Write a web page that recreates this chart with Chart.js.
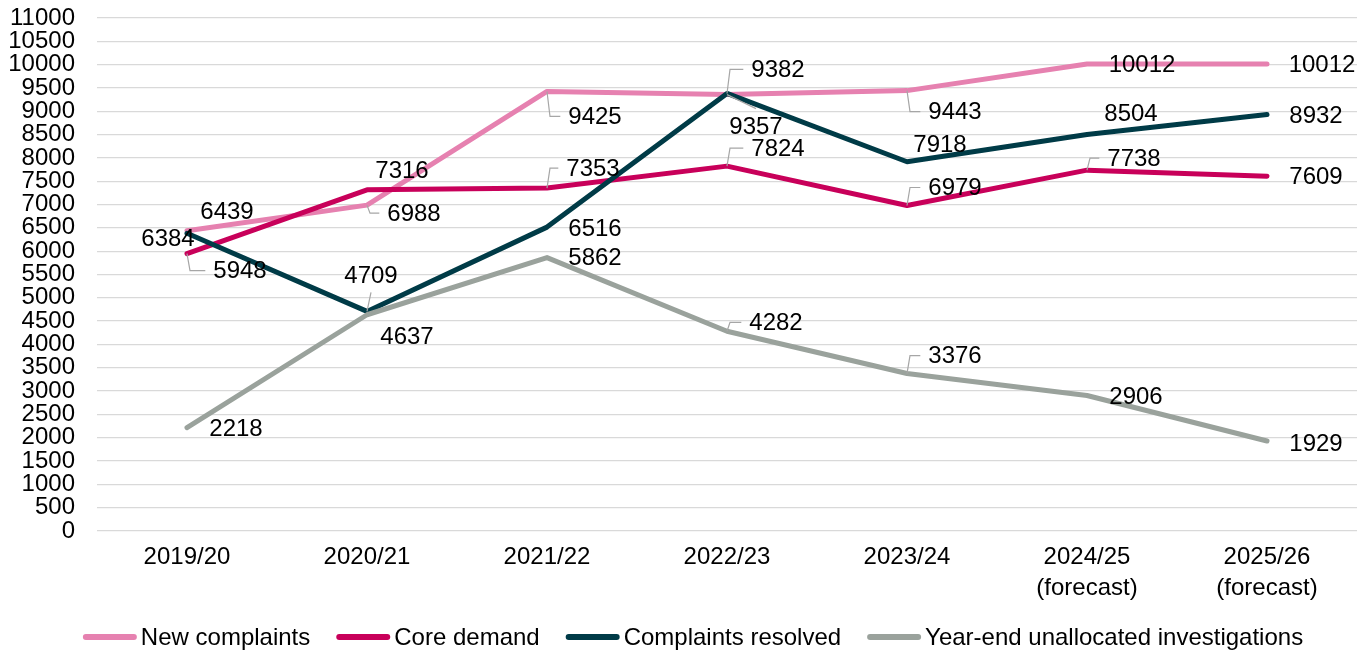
<!DOCTYPE html>
<html>
<head>
<meta charset="utf-8">
<script src="https://cdn.jsdelivr.net/npm/chart.js@4"></script>
<style>
  body { margin: 0; background: #fff; }
  #wrap { width: 1372px; height: 653px; position: relative; }
</style>
</head>
<body>
<div id="wrap"><canvas id="complaintsChart"></canvas></div>
<script>
// categories
const years = ['2019/20', '2020/21', '2021/22', '2022/23', '2023/24', ['2024/25', '(forecast)'], ['2025/26', '(forecast)']];

// series values
const newComplaints = [6439, 6988, 9425, 9357, 9443, 10012, 10012];
const coreDemand = [5948, 7316, 7353, 7824, 6979, 7738, 7609];
const complaintsResolved = [6384, 4709, 6516, 9382, 7918, 8504, 8932];
const unallocated = [2218, 4637, 5862, 4282, 3376, 2906, 1929];

// y axis ticks
const yMin = 0, yMax = 11000, yStep = 500;

// where each value label sits next to its point: [dx, dy, leader]
const newLabelPos = [[40, -19], [47, 8, 'elbow'], [48, 25, 'elbow'], [29, 32, 'v'], [48, 21, 'elbow'], [55, 0], [55, 0]];
const coreLabelPos = [[53, 17, 'elbow'], [35, -19], [46, -20, 'elbow'], [51, -18, 'elbow'], [48, -18, 'elbow'], [47, -12, 'elbow'], [49, 0]];
const resolvedLabelPos = [[-19, 5], [4, -36, 'v'], [48, 1], [51, -24, 'elbow'], [33, -17], [44, -21], [49, 1]];
const unallocLabelPos = [[49, 1], [40, 22], [48, 0], [49, -9, 'elbow'], [48, -18, 'elbow'], [49, 1], [49, 2]];

const FONT = '"Liberation Sans", Arial, sans-serif';

// draws the numbers beside each point, with the grey leader lines
const valueLabels = {
    id: 'valueLabels',
    afterDatasetsDraw(chart) {
        const ctx = chart.ctx;
        ctx.save();
        ctx.font = '24px ' + FONT;
        ctx.textAlign = 'center';
        ctx.textBaseline = 'middle';
        chart.data.datasets.forEach((ds, di) => {
            const meta = chart.getDatasetMeta(di);
            meta.data.forEach((pt, i) => {
                const pos = ds.labelPos[i];
                const text = String(ds.data[i]);
                const lx = pt.x + pos[0], ly = pt.y + pos[1];
                const w = ctx.measureText(text).width;
                if (pos[2]) {
                    ctx.strokeStyle = '#a6a6a6';
                    ctx.lineWidth = 1.2;
                    ctx.beginPath();
                    ctx.moveTo(pt.x, pt.y);
                    if (pos[2] == 'elbow') {
                        ctx.lineTo(pt.x + 3, ly);
                        ctx.lineTo(lx - w / 2 - 8, ly);
                    } else {
                        ctx.lineTo(lx, ly + (pos[1] > 0 ? -18 : 17));
                    }
                    ctx.stroke();
                }
                ctx.fillStyle = '#000';
                ctx.fillText(text, lx, ly + 1);
            });
        });
        ctx.restore();
    }
};

// legend under the axis: short thick line then the series name, tight like the original
const bottomLegend = {
    id: 'bottomLegend',
    afterDraw(chart) {
        const ctx = chart.ctx;
        const sample = 54, gap = 4, spacing = 26;
        ctx.save();
        ctx.font = '24px ' + FONT;
        ctx.textBaseline = 'middle';
        ctx.textAlign = 'left';
        const sets = chart.data.datasets;
        let total = 0;
        sets.forEach((ds, i) => {
            total += sample + gap + ctx.measureText(ds.label).width;
            if (i < sets.length - 1) total += spacing;
        });
        let x = (chart.width - total) / 2 + 7;
        const y = chart.chartArea.bottom + 106;
        sets.forEach((ds) => {
            ctx.strokeStyle = ds.borderColor;
            ctx.lineWidth = 6;
            ctx.lineCap = 'round';
            ctx.beginPath();
            ctx.moveTo(x + 3, y);
            ctx.lineTo(x + sample - 3, y);
            ctx.stroke();
            ctx.fillStyle = '#000';
            ctx.fillText(ds.label, x + sample + gap, y + 1);
            x += sample + gap + ctx.measureText(ds.label).width + spacing;
        });
        ctx.restore();
    }
};

function lineSet(label, data, color, labelPos, order) {
    return {
        label: label,
        data: data,
        borderColor: color,
        backgroundColor: color,
        borderWidth: 5,
        borderCapStyle: 'round',
        borderJoinStyle: 'round',
        pointRadius: 0,
        pointHoverRadius: 0,
        tension: 0,
        fill: false,
        labelPos: labelPos,
        order: order
    };
}

const ctx = document.getElementById('complaintsChart').getContext('2d');
const complaintsChart = new Chart(ctx, {
    type: 'line',
    data: {
        labels: years,
        datasets: [
            lineSet('New complaints', newComplaints, '#e681b0', newLabelPos, 3),
            lineSet('Core demand', coreDemand, '#c8005a', coreLabelPos, 2),
            lineSet('Complaints resolved', complaintsResolved, '#003b47', resolvedLabelPos, 1),
            lineSet('Year-end unallocated investigations', unallocated, '#9aa29c', unallocLabelPos, 0)
        ]
    },
    options: {
        responsive: true,
        maintainAspectRatio: false,
        animation: false,
        layout: { padding: { top: 18, right: 15, left: 0, bottom: 42 } },
        scales: {
            x: {
                offset: true,
                grid: { display: false, drawTicks: false },
                border: { display: false },
                ticks: { color: '#000', font: { family: FONT, size: 24, lineHeight: 1.3 }, padding: 11, maxRotation: 0, autoSkip: false },
                afterFit(scale) { scale.height = 80; }
            },
            y: {
                min: yMin,
                max: yMax,
                grid: { color: '#d9d9d9', lineWidth: 1.3, drawTicks: false },
                border: { display: false },
                ticks: {
                    stepSize: yStep, color: '#000', font: { family: FONT, size: 24 }, padding: 22, autoSkip: false,
                    callback: (v) => String(v)
                },
                afterFit(scale) {
                    scale.width = 97;
                    scale.paddingTop = 0;
                    scale.paddingBottom = 0;
                }
            }
        },
        plugins: {
            legend: { display: false },
            tooltip: { enabled: false }
        }
    },
    plugins: [valueLabels, bottomLegend]
});
</script>
</body>
</html>
